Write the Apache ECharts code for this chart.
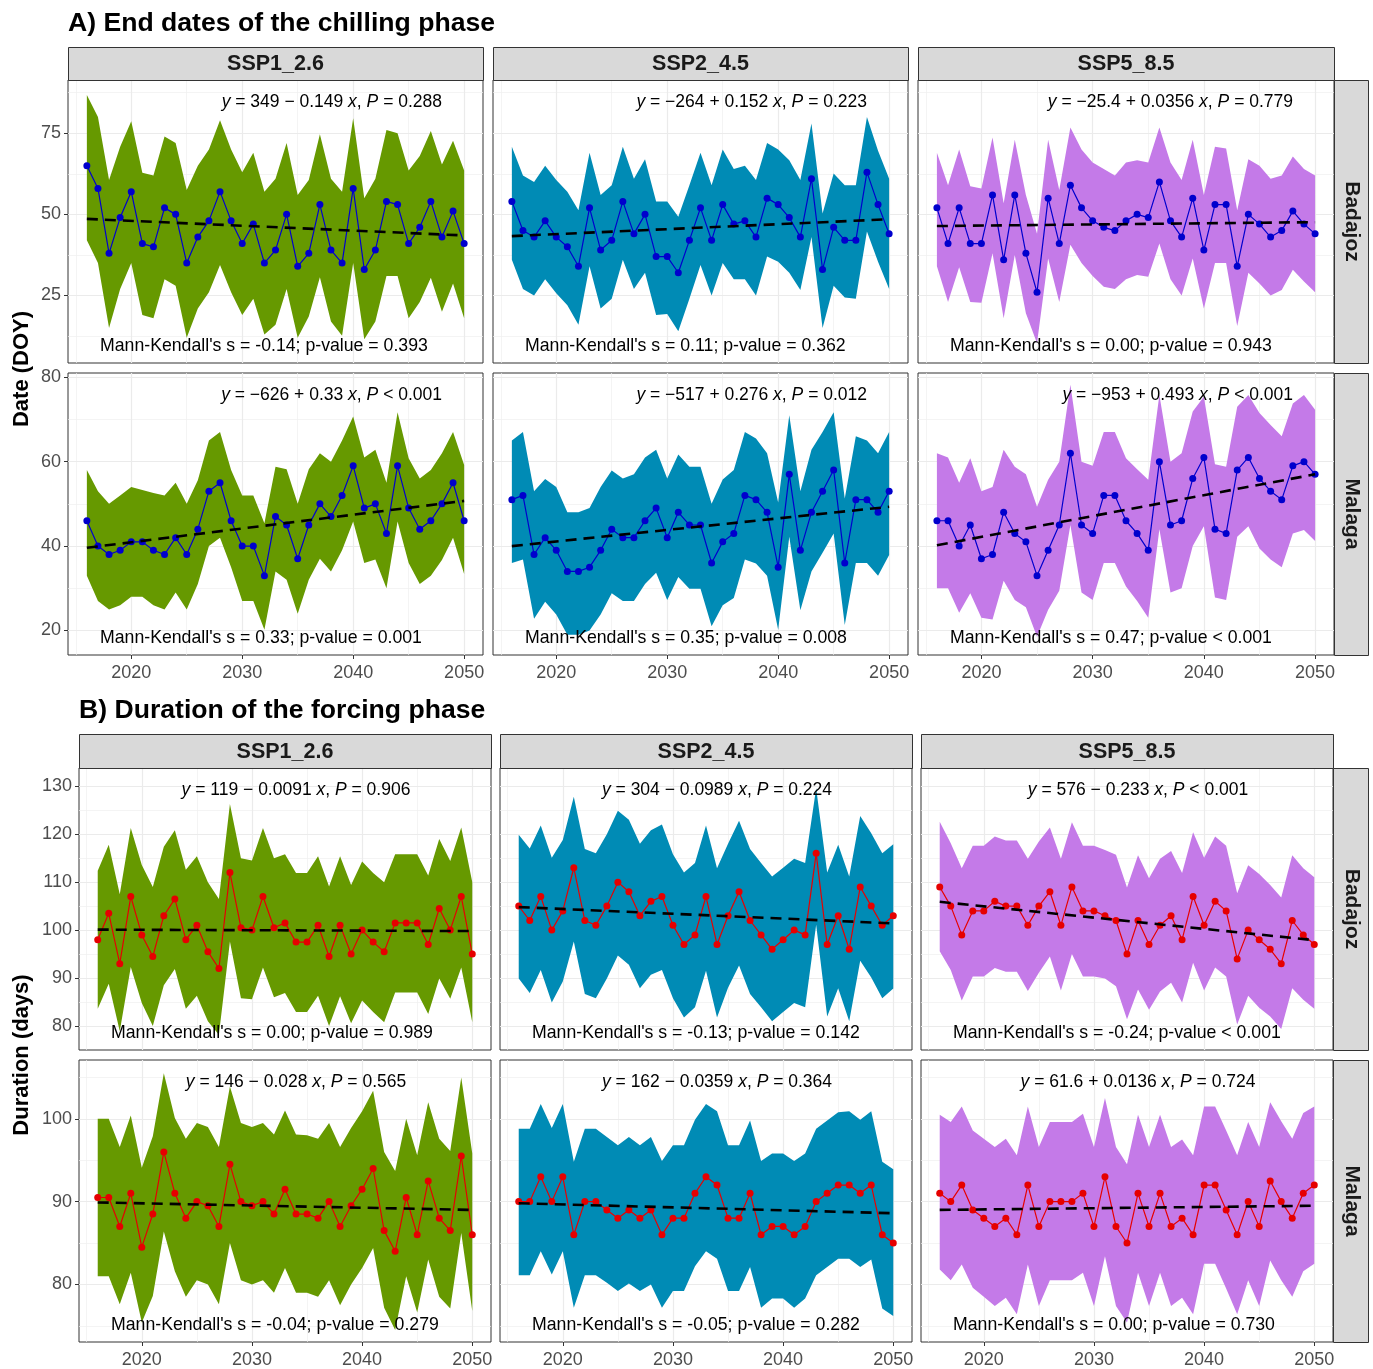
<!DOCTYPE html>
<html><head><meta charset="utf-8">
<script src="https://cdn.jsdelivr.net/npm/echarts@6/dist/echarts.min.js"></script>
<style>html,body{margin:0;padding:0;background:#fff}#c{width:1373px;height:1369px}</style>
</head><body><div id="c"></div>
<script>
// ---------------- DATA ----------------
const years = [2016,2017,2018,2019,2020,2021,2022,2023,2024,2025,2026,2027,2028,2029,2030,2031,2032,2033,2034,2035,2036,2037,2038,2039,2040,2041,2042,2043,2044,2045,2046,2047,2048,2049,2050];
const scenarios = ['SSP1_2.6','SSP2_4.5','SSP5_8.5'];
const sites = ['Badajoz','Malaga'];
const xMajorTicks = [2020,2030,2040,2050];
const xMinorTicks = [2015,2025,2035,2045];

// A) End dates of the chilling phase
const A_Badajoz_SSP1_mean  = [65,58,38,49,57,41,40,52,50,35,43,48,57,48,41,47,35,39,50,34,38,53,39,35,58,33,39,54,53,41,46,54,43,51,41];
const A_Badajoz_SSP1_upper = [86.8,80,60.6,70.8,78.7,62.8,62,74,72,57.5,65,70,79,70,63,69,57,61,72,56,60.6,74.7,61,57,79.6,55,61,76,75,63.5,68,75.7,65.4,72.7,63.5];
const A_Badajoz_SSP1_lower = [42,35,15,27,35,19,18,30,28,12,21,26,34.4,26,19,24,13,16,27,12,18.5,30.6,17,12.6,35,11.5,17,31,31,18,23,30.5,20,28.7,18];
const A_Badajoz_SSP2_mean  = [54,45,43,48,43,40,34,52,39,42,54,44,50,37,37,32,42,52,42,53,47,48,43,55,53,49,43,61,33,46,42,42,63,53,44];
const A_Badajoz_SSP2_upper = [70.8,62,60,65,60.6,57,51.3,69,56,59,70.8,61,67,54,54,49.3,59,69,59,70,64,65,60.6,72,70,66.7,60.6,78,50.3,62.6,59,59,80,69.6,61];
const A_Badajoz_SSP2_lower = [36,27,25,30,25.7,22,16,34,21,24,36,27,32,19,19.3,14,24,34.4,25,35,30,30,25,37,35.4,32,26.7,43,15,28,24.4,24,44.7,35.4,27];
const A_Badajoz_SSP5_mean  = [52,41,52,41,41,56,36,56,38,26,55,41,59,52,48,46,45,48,50,49,60,48,43,55,39,53,53,34,50,47,43,45,51,47,44];
const A_Badajoz_SSP5_upper = [69,59,70,58.7,58,73.7,53.4,73,56,44,73,57.5,76.8,70,66,64,62,66,66.7,66,76.8,66,60.6,73,56,70.8,70.3,51.3,67,65,61,62,67.8,64,62];
const A_Badajoz_SSP5_lower = [34,23,33.7,23,22.8,38,18,37.5,19.5,10.3,36.4,23,40.6,35,31,27.7,27,30,31.3,30.8,41,30,25,36.4,21,35,35,15.6,32,28.7,25,26.7,32.9,29.3,26];
const A_Malaga_SSP1_mean   = [46,40,38,39,41,41,39,38,42,38,44,53,55,46,40,40,33,47,45,37,45,50,47,52,59,49,50,43,59,49,44,46,50,55,46];
const A_Malaga_SSP1_upper  = [58,53,50,52,54,53.3,52.6,52,55,50,55.6,65,67,58,52,52,45.4,58.8,58.2,50,58.2,62,60,65,70.7,61,62.8,55,71.7,60.8,56,58,62,67,59.2];
const A_Malaga_SSP1_lower  = [33,27,25,26,28,28,26,25,29,25,31,40,42,35,27,27,20.2,34,32,24,32,37,34,39,45.8,36,36.8,30,45.8,36,31,33,36.7,42,33.4];
const A_Malaga_SSP2_mean   = [51,52,38,42,39,34,34,35,39,44,42,42,46,49,42,48,45,45,36,41,43,52,51,48,35,57,39,48,53,58,36,51,51,48,53];
const A_Malaga_SSP2_upper  = [65,67,53,55.9,54,48,48,49,54,57.9,56,57,61,62.8,56,61.7,58.8,58.8,50,55.8,58,67,65.5,62,50.3,71,53,62.8,67,71.7,51.3,66,65,62,67];
const A_Malaga_SSP2_lower  = [36,36.8,22.8,26.8,23.8,19,19,20,23.8,28.8,27,27,31,33.7,27.2,32.7,29.9,29.9,21,26,27.7,36.8,35.9,33,20.2,42.2,24.8,34,38.4,43,21.3,36,36,33,37.9];
const A_Malaga_SSP5_mean   = [46,46,40,45,37,38,48,43,41,33,39,45,62,45,43,52,52,46,43,39,60,45,46,56,61,44,43,58,61,56,53,51,59,60,57];
const A_Malaga_SSP5_upper  = [62,61,55,60.8,53,54,62.8,58.8,57,49.3,55.7,60,78.2,60,59,67,67,60.8,58.2,55.7,75.8,60,62,71.9,75.4,59.4,58.8,73,75.8,71.5,68.7,66,73.8,75.8,72.3];
const A_Malaga_SSP5_lower  = [30,30,24.2,28.8,23,22.6,31.8,27.2,25.5,18.5,24.9,29.4,45,29,27.2,36,36,30.4,27,23,44,29,30,40,44.7,27.8,27.2,42.2,44.7,39.4,36.8,35,43,43.8,41.2];

// B) Duration of the forcing phase
const B_Badajoz_SSP1_mean  = [98,103.5,93,107,99,94.5,103,106.5,98,101,95.5,92,112,100.5,100,107,100.5,101.5,97.5,97.5,101,94.5,101,95,100,97.5,95.5,101.5,101.5,101.5,97,104.5,100,107,95];
const B_Badajoz_SSP1_upper = [112.4,117.8,107.5,121.3,113.6,109,117.4,120.8,112.6,115.4,110,106.5,126.3,115,114.5,121.3,115,115.8,111.9,111.9,115.4,109.1,115.4,109.4,114.3,111.9,110,115.8,115.8,115.8,111.4,119,114.4,121.4,110];
const B_Badajoz_SSP1_lower = [83.6,88.8,78.9,92.3,84.8,80,88.5,91.9,83.6,86.3,81,78.2,97.6,85.8,85.6,92.2,86,86.9,82.9,82.9,86.3,80,86.2,80.6,85.3,82.9,80.8,87,87,87,82.5,89.9,85.7,92.2,80.8];
const B_Badajoz_SSP2_mean  = [105,102,107,100,104,113,102,101,105,110,108,103,106,107,101,97,99,107,97,103,108,102,99,96,98,100,99,116,97,103,96,109,105,101,103];
const B_Badajoz_SSP2_upper = [119.9,117,121.8,115.1,118.8,127.8,116.9,116,120,124.9,123,118,120.8,122,115.8,112,114,121.8,112.9,118,122.8,116.9,114,111.2,113,114.9,114,129.6,112,117.8,111.2,123.8,120.2,116,117.9];
const B_Badajoz_SSP2_lower = [89.9,86.9,91.7,84.9,89.3,97.6,86.7,85.8,89.9,94.7,92.8,87.9,90.7,91.7,85.8,81.8,83.9,91.5,81.8,88,92.6,86.7,83.9,81,82.9,84.8,83.9,101.1,82,87.9,81,93.6,90.1,85.8,87.8];
const B_Badajoz_SSP5_mean  = [109,105,99,104,104,106,105,105,101,105,108,101,109,104,104,103,102,95,102,97,101,103,98,107,101,106,104,94,100,98,96,93,102,99,97];
const B_Badajoz_SSP5_upper = [122.6,118.1,112.9,117.6,117.6,119.5,118.7,118.7,114.9,118.5,121.4,114.9,122.5,117.6,117.6,116.7,115.7,108.9,115.6,110.8,114.9,116.5,111.9,120.4,115.1,119.5,117.6,107.7,113.5,111.7,109.4,106.8,115.6,112.9,111];
const B_Badajoz_SSP5_lower = [95.6,91.7,85.3,90.3,90.3,92.1,91.3,91.3,87.3,91.1,94.5,87.4,95,90.3,90.3,89.9,88.3,81.4,87.6,83.4,87.2,89,84.9,93.2,87.4,92.2,90.3,80.3,86.3,83.8,82,79.4,87.9,85.5,83.6];
const B_Malaga_SSP1_mean   = [90.5,90.5,87,91,84.5,88.5,96,91,88,90,89.5,87,94.5,90,89.5,90,88.5,91.5,88.5,88.5,88,90,87,89.5,91.5,94,86.5,84,90.5,86,92.5,88,86.5,95.5,86];
const B_Malaga_SSP1_upper  = [100,100,96.6,100.4,94.1,97.9,105.5,100.1,97.6,99.5,99,96.6,103.9,99.5,99,99.5,98.1,101,98.1,98,97.6,99.5,96.6,98.9,100.9,103.4,96,93.7,100,95.6,102,97.6,96.1,105,95.8];
const B_Malaga_SSP1_lower  = [81,81,77.6,81.4,75.4,78.6,86.4,81.6,78.5,80.5,80,77.6,85,80.5,80,80.5,79,82,79,79,78.5,80.5,77.5,80,82,84.4,77.2,74.5,81,76.6,83,78.5,77.1,86.2,76.8];
const B_Malaga_SSP2_mean   = [90,90,93,90,93,86,90,90,89,88,89,88,89,86,88,88,91,93,92,88,88,91,86,87,87,86,87,90,91,92,92,91,92,86,85];
const B_Malaga_SSP2_upper  = [98.8,98.8,101.8,98.9,101.8,94.8,98.8,98.8,97.8,96.8,97.8,96.8,97.8,94.9,96.8,96.8,99.9,101.8,100.9,96.8,96.8,99.8,94.9,95.8,95.8,94.9,95.8,98.8,99.8,100.8,100.9,99.9,100.9,94.8,93.9];
const B_Malaga_SSP2_lower  = [81.1,81.1,84,81.2,84,77.2,81.1,81.1,80.2,79.2,80.1,79.2,80,77.2,79.2,79.2,82.2,84,83.1,79.2,79.2,82.1,77.2,78.3,78.3,77.2,78.3,81.1,82.1,83.1,83.1,82.1,83,77.1,76.2];
const B_Malaga_SSP5_mean   = [91,90,92,89,88,87,88,86,92,87,90,90,90,91,87,93,87,85,91,87,91,87,88,86,92,92,89,86,90,87,92.5,90,88,91,92];
const B_Malaga_SSP5_upper  = [100.5,99.6,101.5,98.6,97.6,96.6,97.6,95.6,101.5,96.6,99.6,99.6,99.6,100.6,96.6,102.5,96.6,94.5,100.5,96.6,100.5,96.6,97.5,95.6,101.5,101.5,98.6,95.6,99.6,96.6,102,99.7,97.6,100.7,101.5];
const B_Malaga_SSP5_lower  = [81.8,80.5,82.4,79.6,78.5,77.4,78.4,76.4,82.4,77.4,80.5,80.5,80.5,81.4,77.4,83.4,77.4,75.4,81.4,77.4,81.4,77.4,78.4,76.4,82.5,82.5,79.5,76.4,80.5,77.4,82.9,80.5,78.5,81.6,82.5];

// fitted trend line values at first and last year
const A_trend = [[[48.6,43.5],[43.3,48.5],[46.4,47.6]], [[39.6,50.7],[40.0,49.3],[40.2,57.0]]];
const B_trend = [[[100.1,99.8],[104.8,101.4],[105.9,97.9]], [[89.9,89.0],[89.8,88.6],[89.0,89.5]]];

const A_eq = [['{i|y} = 349 − 0.149 {i|x}, {i|P} = 0.288','{i|y} = −264 + 0.152 {i|x}, {i|P} = 0.223','{i|y} = −25.4 + 0.0356 {i|x}, {i|P} = 0.779'],
              ['{i|y} = −626 + 0.33 {i|x}, {i|P} < 0.001','{i|y} = −517 + 0.276 {i|x}, {i|P} = 0.012','{i|y} = −953 + 0.493 {i|x}, {i|P} < 0.001']];
const B_eq = [['{i|y} = 119 − 0.0091 {i|x}, {i|P} = 0.906','{i|y} = 304 − 0.0989 {i|x}, {i|P} = 0.224','{i|y} = 576 − 0.233 {i|x}, {i|P} < 0.001'],
              ['{i|y} = 146 − 0.028 {i|x}, {i|P} = 0.565','{i|y} = 162 − 0.0359 {i|x}, {i|P} = 0.364','{i|y} = 61.6 + 0.0136 {i|x}, {i|P} = 0.724']];
const A_mk = [["Mann-Kendall's s = -0.14; p-value = 0.393","Mann-Kendall's s = 0.11; p-value = 0.362","Mann-Kendall's s = 0.00; p-value = 0.943"],
              ["Mann-Kendall's s = 0.33; p-value = 0.001","Mann-Kendall's s = 0.35; p-value = 0.008","Mann-Kendall's s = 0.47; p-value < 0.001"]];
const B_mk = [["Mann-Kendall's s = 0.00; p-value = 0.989","Mann-Kendall's s = -0.13; p-value = 0.142","Mann-Kendall's s = -0.24; p-value < 0.001"],
              ["Mann-Kendall's s = -0.04; p-value = 0.279","Mann-Kendall's s = -0.05; p-value = 0.282","Mann-Kendall's s = 0.00; p-value = 0.730"]];

const A_yMajor = [[25,50,75],[20,40,60,80]];
const A_yMinor = [[12.5,37.5,62.5,87.5],[30,50,70]];
const B_yMajor = [[80,90,100,110,120,130],[80,90,100]];
const B_yMinor = [[85,95,105,115,125],[75,85,95,105]];

// ---------------- LAYOUT / STYLE ----------------
const F = '"Liberation Sans", Arial, sans-serif';
const bandColors = ['#669900','#008BB5','#C47AE8'];
const parts = [
  { title:'A) End dates of the chilling phase', titleX:68, titleY:24, yTitle:'Date (DOY)', yTitleY:369,
    cols:[{l:68,w:415},{l:493,w:415},{l:918,w:416}], rows:[{t:80,h:283},{t:373,h:282}],
    stripTop:47, stripH:33, rStripL:1334, rStripR:1368,
    yRange:[[4.2,91.4],[14.2,81]], yMajor:A_yMajor, yMinor:A_yMinor,
    pref:'A', trend:A_trend, eq:A_eq, mk:A_mk, eqMode:'right', meanColor:'#0000CD' },
  { title:'B) Duration of the forcing phase', titleX:79, titleY:711, yTitle:'Duration (days)', yTitleY:1055,
    cols:[{l:79,w:412},{l:500,w:412},{l:921,w:412}], rows:[{t:768,h:282},{t:1060,h:282}],
    stripTop:734, stripH:34, rStripL:1333, rStripR:1368,
    yRange:[[75,133.8],[73.05,107.1]], yMajor:B_yMajor, yMinor:B_yMinor,
    pref:'B', trend:B_trend, eq:B_eq, mk:B_mk, eqMode:'center', meanColor:'#E60000' }
];
const dataSets = {
  A_Badajoz_SSP1:[A_Badajoz_SSP1_mean,A_Badajoz_SSP1_lower,A_Badajoz_SSP1_upper],
  A_Badajoz_SSP2:[A_Badajoz_SSP2_mean,A_Badajoz_SSP2_lower,A_Badajoz_SSP2_upper],
  A_Badajoz_SSP5:[A_Badajoz_SSP5_mean,A_Badajoz_SSP5_lower,A_Badajoz_SSP5_upper],
  A_Malaga_SSP1:[A_Malaga_SSP1_mean,A_Malaga_SSP1_lower,A_Malaga_SSP1_upper],
  A_Malaga_SSP2:[A_Malaga_SSP2_mean,A_Malaga_SSP2_lower,A_Malaga_SSP2_upper],
  A_Malaga_SSP5:[A_Malaga_SSP5_mean,A_Malaga_SSP5_lower,A_Malaga_SSP5_upper],
  B_Badajoz_SSP1:[B_Badajoz_SSP1_mean,B_Badajoz_SSP1_lower,B_Badajoz_SSP1_upper],
  B_Badajoz_SSP2:[B_Badajoz_SSP2_mean,B_Badajoz_SSP2_lower,B_Badajoz_SSP2_upper],
  B_Badajoz_SSP5:[B_Badajoz_SSP5_mean,B_Badajoz_SSP5_lower,B_Badajoz_SSP5_upper],
  B_Malaga_SSP1:[B_Malaga_SSP1_mean,B_Malaga_SSP1_lower,B_Malaga_SSP1_upper],
  B_Malaga_SSP2:[B_Malaga_SSP2_mean,B_Malaga_SSP2_lower,B_Malaga_SSP2_upper],
  B_Malaga_SSP5:[B_Malaga_SSP5_mean,B_Malaga_SSP5_lower,B_Malaga_SSP5_upper]
};
const scKeys = ['SSP1','SSP2','SSP5'];
const xMin = 2014.3, xMax = 2051.7;
const plainNum = v => String(v);

const grids = [], xAxes = [], yAxes = [], series = [], graphics = [];

parts.forEach(p => {
  graphics.push({type:'text', x:p.titleX, y:p.titleY, z:100,
    style:{text:p.title, fontSize:26.6, fontWeight:'bold', fontFamily:F, fill:'#000', align:'left', verticalAlign:'middle'}});
  graphics.push({type:'text', x:22, y:p.yTitleY, rotation:Math.PI/2, z:100,
    style:{text:p.yTitle, fontSize:22, fontWeight:'bold', fontFamily:F, fill:'#000', align:'center', verticalAlign:'middle'}});
  p.cols.forEach((c, ci) => {
    graphics.push({type:'rect', z:50, shape:{x:c.l+0.5, y:p.stripTop+0.5, width:c.w, height:p.stripH},
      style:{fill:'#D9D9D9', stroke:'#333', lineWidth:1}});
    graphics.push({type:'text', x:c.l + c.w/2, y:p.stripTop + p.stripH/2 + 1, z:100,
      style:{text:scenarios[ci], fontSize:21.5, fontWeight:'bold', fontFamily:F, fill:'#1A1A1A', align:'center', verticalAlign:'middle'}});
  });
  p.rows.forEach((r, ri) => {
    graphics.push({type:'rect', z:50, shape:{x:p.rStripL+0.5, y:r.t+0.5, width:p.rStripR-p.rStripL, height:r.h},
      style:{fill:'#D9D9D9', stroke:'#333', lineWidth:1}});
    graphics.push({type:'text', x:(p.rStripL+p.rStripR)/2 + 1, y:r.t + r.h/2, rotation:-Math.PI/2, z:100,
      style:{text:sites[ri], fontSize:21, fontWeight:'bold', fontFamily:F, fill:'#1A1A1A', align:'center', verticalAlign:'middle'}});
    p.cols.forEach((c, ci) => {
      const gi = grids.length;
      const isLeft = ci === 0, isBottom = ri === p.rows.length - 1;
      grids.push({left:c.l, top:r.t, width:c.w, height:r.h, show:true, borderColor:'#333', borderWidth:1, backgroundColor:'#fff'});
      const xi = xAxes.length, yi = yAxes.length;
      xAxes.push({type:'value', gridIndex:gi, min:xMin, max:xMax, position:'bottom', z:1,
        axisLine:{show:false},
        axisTick:{show:isBottom, customValues:xMajorTicks, length:4, lineStyle:{color:'#333', width:1}},
        axisLabel:{show:isBottom, customValues:xMajorTicks, formatter:plainNum, fontSize:18, color:'#4D4D4D', fontFamily:F, margin:9},
        splitLine:{show:true, lineStyle:{color:'#EBEBEB', width:1.2}}});
      xAxes.push({type:'value', gridIndex:gi, min:xMin, max:xMax, position:'top', z:0,
        axisLine:{show:false}, axisTick:{show:false, customValues:xMinorTicks},
        axisLabel:{show:false, customValues:xMinorTicks},
        splitLine:{show:true, lineStyle:{color:'#EFEFEF', width:0.7}}});
      const yr = p.yRange[ri];
      yAxes.push({type:'value', gridIndex:gi, min:yr[0], max:yr[1], position:'left', z:1,
        axisLine:{show:false},
        axisTick:{show:isLeft, customValues:p.yMajor[ri], length:4, lineStyle:{color:'#333', width:1}},
        axisLabel:{show:isLeft, customValues:p.yMajor[ri], formatter:plainNum, fontSize:18, color:'#4D4D4D', fontFamily:F, margin:7},
        splitLine:{show:true, lineStyle:{color:'#EBEBEB', width:1.2}}});
      yAxes.push({type:'value', gridIndex:gi, min:yr[0], max:yr[1], position:'right', z:0,
        axisLine:{show:false}, axisTick:{show:false, customValues:p.yMinor[ri]},
        axisLabel:{show:false, customValues:p.yMinor[ri]},
        splitLine:{show:true, lineStyle:{color:'#EFEFEF', width:0.7}}});

      const ds = dataSets[p.pref + '_' + sites[ri] + '_' + scKeys[ci]];
      const mean = ds[0], lower = ds[1], upper = ds[2];
      const col = bandColors[ci];
      series.push({type:'custom', xAxisIndex:xi, yAxisIndex:yi, silent:true, z:1,
        data: years.map((y, i) => [y, lower[i], upper[i]]),
        encode:{x:0, y:[1,2]},
        renderItem: (params, api) => {
          if (params.dataIndex !== 0) return null;
          const top = [], bot = [];
          for (let i = 0; i < years.length; i++) {
            top.push(api.coord([api.value(0, i), api.value(2, i)]));
            bot.push(api.coord([api.value(0, i), api.value(1, i)]));
          }
          return {type:'polygon', shape:{points: top.concat(bot.reverse())}, style:{fill:col, stroke:null}};
        }});
      series.push({type:'line', xAxisIndex:xi, yAxisIndex:yi, z:3, silent:true,
        data: years.map((y, i) => [y, mean[i]]),
        symbol:'circle', symbolSize:7, showSymbol:true,
        itemStyle:{color:p.meanColor}, lineStyle:{color:p.meanColor, width:1.2}});
      const tr = p.trend[ri][ci];
      series.push({type:'line', xAxisIndex:xi, yAxisIndex:yi, z:4, silent:true,
        data: [[years[0], tr[0]], [years[years.length-1], tr[1]]],
        symbol:'none', lineStyle:{color:'#000', width:2.6, type:[11,7]}});

      // annotations
      const eqY = r.t + 22, mkY = r.t + r.h - 17;
      const eqStyle = {text:p.eq[ri][ci], fontSize:17.5, fontFamily:F, fill:'#000', verticalAlign:'middle',
        rich:{i:{fontStyle:'italic', fontSize:17.5, fontFamily:F, fill:'#000'}}};
      if (p.eqMode === 'right') {
        eqStyle.align = 'right';
        graphics.push({type:'text', x:c.l + c.w - 41, y:eqY, z:100, style:eqStyle});
      } else {
        eqStyle.align = 'center';
        graphics.push({type:'text', x:c.l + c.w/2 + 11, y:eqY, z:100, style:eqStyle});
      }
      graphics.push({type:'text', x:c.l + 32, y:mkY, z:100,
        style:{text:p.mk[ri][ci], fontSize:17.7, fontFamily:F, fill:'#000', align:'left', verticalAlign:'middle'}});
    });
  });
});

const chart = echarts.init(document.getElementById('c'), null, {renderer:'canvas'});
chart.setOption({
  backgroundColor:'#fff', animation:false,
  grid:grids, xAxis:xAxes, yAxis:yAxes, series:series,
  graphic:{elements:graphics}
});
</script></body></html>
